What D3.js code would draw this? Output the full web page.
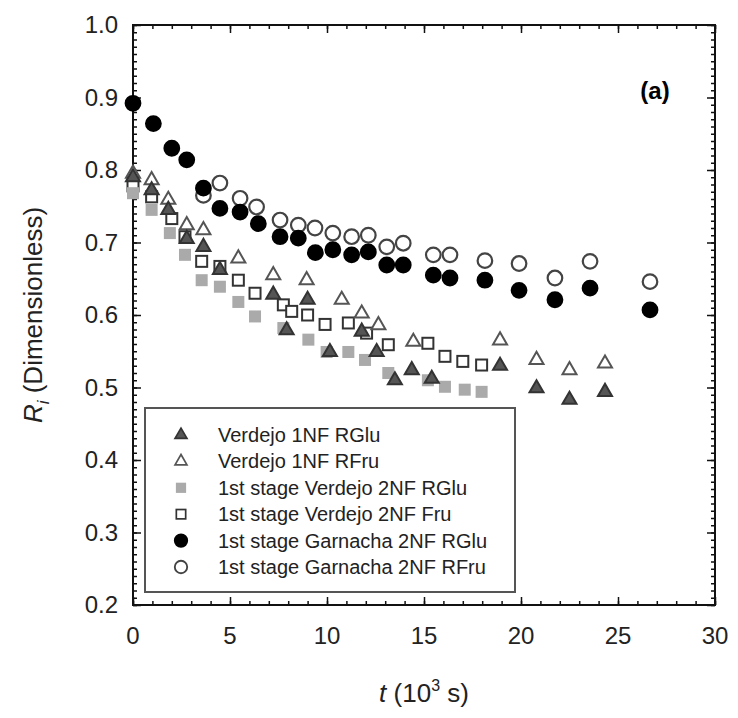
<!DOCTYPE html>
<html>
<head>
<meta charset="utf-8">
<title>Ri vs t</title>
<script src="https://d3js.org/d3.v7.min.js"></script>
<style>
  body { margin: 0; background: #fff; }
  text { font-family: "Liberation Sans", Arial, sans-serif; }
</style>
</head>
<body>
<svg width="738" height="718"></svg>
<script>
// ---- data (t in 10^3 s, Ri dimensionless) ----
var v1GluT = [0, 0.96, 1.82, 2.77, 3.63, 4.48, 7.23, 7.92, 9.0, 10.15, 11.79, 12.56, 13.5, 14.37, 15.4, 18.92, 20.8, 22.5, 24.33];
var v1Glu  = [0.790, 0.772, 0.745, 0.705, 0.694, 0.662, 0.628, 0.579, 0.621, 0.549, 0.577, 0.549, 0.510, 0.524, 0.512, 0.530, 0.499, 0.483, 0.494];

var v1FruT = [0, 0.96, 1.82, 2.77, 3.63, 5.43, 7.23, 8.95, 10.76, 11.79, 12.65, 14.45, 18.92, 20.8, 22.5, 24.33];
var v1Fru  = [0.795, 0.786, 0.759, 0.724, 0.717, 0.678, 0.655, 0.648, 0.621, 0.602, 0.586, 0.563, 0.565, 0.538, 0.524, 0.533];

var v2GluT = [0, 0.96, 1.9, 2.68, 3.54, 4.48, 5.43, 6.29, 7.75, 9.04, 9.98, 11.1, 11.96, 13.16, 15.2, 16.08, 17.1, 17.97];
var v2Glu  = [0.768, 0.745, 0.713, 0.683, 0.648, 0.639, 0.618, 0.598, 0.582, 0.566, 0.549, 0.549, 0.538, 0.520, 0.510, 0.501, 0.497, 0.494];

var v2FruT = [0, 0.96, 2.0, 2.68, 3.54, 4.48, 5.43, 6.29, 7.75, 8.18, 9.0, 9.9, 11.1, 12.04, 13.16, 15.2, 16.08, 17.0, 17.97];
var v2Fru  = [0.778, 0.763, 0.733, 0.708, 0.674, 0.667, 0.648, 0.630, 0.614, 0.605, 0.600, 0.587, 0.589, 0.575, 0.559, 0.561, 0.543, 0.536, 0.531];

var gGluT = [0, 1.05, 2.0, 2.77, 3.63, 4.48, 5.52, 6.46, 7.58, 8.52, 9.4, 10.3, 11.27, 12.13, 13.08, 13.93, 15.48, 16.34, 18.14, 19.9, 21.75, 23.56, 26.65];
var gGlu  = [0.892, 0.864, 0.830, 0.814, 0.775, 0.747, 0.742, 0.726, 0.708, 0.706, 0.686, 0.690, 0.683, 0.687, 0.669, 0.669, 0.655, 0.651, 0.648, 0.634, 0.621, 0.637, 0.607];

var gFruT = [3.63, 4.48, 5.52, 6.37, 7.58, 8.52, 9.38, 10.3, 11.27, 12.13, 13.08, 13.93, 15.48, 16.34, 18.14, 19.9, 21.75, 23.56, 26.65];
var gFru  = [0.765, 0.782, 0.761, 0.749, 0.731, 0.724, 0.720, 0.713, 0.708, 0.710, 0.694, 0.699, 0.683, 0.683, 0.675, 0.671, 0.651, 0.674, 0.646];

var xTicks = [0, 5, 10, 15, 20, 25, 30];
var yTicks = [0.2, 0.3, 0.4, 0.5, 0.6, 0.7, 0.8, 0.9, 1.0];

var series = [
  {name: "Verdejo 1NF RGlu", t: v1GluT, v: v1Glu, shape: "tri", fill: "#555", stroke: "#333"},
  {name: "Verdejo 1NF RFru", t: v1FruT, v: v1Fru, shape: "tri", fill: "#fff", stroke: "#555"},
  {name: "1st stage Verdejo 2NF RGlu", t: v2GluT, v: v2Glu, shape: "sq", fill: "#aaa", stroke: "none"},
  {name: "1st stage Verdejo 2NF Fru", t: v2FruT, v: v2Fru, shape: "sq", fill: "#fff", stroke: "#333"},
  {name: "1st stage Garnacha 2NF RGlu", t: gGluT, v: gGlu, shape: "circ", fill: "#000", stroke: "#000"},
  {name: "1st stage Garnacha 2NF RFru", t: gFruT, v: gFru, shape: "circ", fill: "#fff", stroke: "#444"}
];

var svg = d3.select("svg");
var plotL = 133, plotR = 715, plotT = 25, plotB = 605;

var x = d3.scaleLinear().domain([0, 30]).range([plotL, plotR]);
var y = d3.scaleLinear().domain([0.2, 1.0]).range([plotB, plotT]);

// ticks (all inward, on four sides)
var minorX = d3.range(0, 31, 1), minorY = d3.range(20, 101, 1).map(function(d) { return d / 100; });

function tickAxis(axis, pos, vals, size) {
  return svg.append("g")
    .attr("transform", pos)
    .call(axis.tickValues(vals).tickSizeInner(size).tickSizeOuter(0).tickFormat(""))
    .call(function(g) { g.select(".domain").remove(); g.selectAll("line").attr("stroke", "#111").attr("stroke-width", 1.5); });
}
tickAxis(d3.axisBottom(x), "translate(0," + plotB + ")", minorX, -4);
tickAxis(d3.axisBottom(x), "translate(0," + plotB + ")", xTicks, -8);
tickAxis(d3.axisTop(x), "translate(0," + plotT + ")", minorX, -4);
tickAxis(d3.axisTop(x), "translate(0," + plotT + ")", xTicks, -8);
tickAxis(d3.axisLeft(y), "translate(" + plotL + ",0)", minorY, -4);
tickAxis(d3.axisLeft(y), "translate(" + plotL + ",0)", yTicks, -8);
tickAxis(d3.axisRight(y), "translate(" + plotR + ",0)", minorY, -4);
tickAxis(d3.axisRight(y), "translate(" + plotR + ",0)", yTicks, -8);

// tick labels
svg.append("g").selectAll("text").data(xTicks).enter().append("text")
  .attr("x", function(d) { return x(d); }).attr("y", 644)
  .attr("text-anchor", "middle").attr("font-size", 24).attr("fill", "#222")
  .text(function(d) { return d; });
svg.append("g").selectAll("text").data(yTicks).enter().append("text")
  .attr("x", 118).attr("y", function(d) { return y(d) + 8; })
  .attr("text-anchor", "end").attr("font-size", 24).attr("fill", "#222")
  .text(function(d) { return d.toFixed(1); });

// frame
svg.append("rect").attr("x", plotL).attr("y", plotT)
  .attr("width", plotR - plotL).attr("height", plotB - plotT)
  .attr("fill", "none").attr("stroke", "#111").attr("stroke-width", 2);

// markers
function drawMarker(sel, s) {
  if (s.shape == "circ") {
    sel.append("circle").attr("r", 7.3)
      .attr("fill", s.fill).attr("stroke", s.stroke).attr("stroke-width", 2.2);
  } else if (s.shape == "sq") {
    var a = s.stroke == "none" ? 12 : 11;
    sel.append("rect").attr("x", -a / 2).attr("y", -a / 2).attr("width", a).attr("height", a)
      .attr("fill", s.fill).attr("stroke", s.stroke).attr("stroke-width", 2);
  } else {
    sel.append("path").attr("d", d3.symbol().type(d3.symbolTriangle).size(85)())
      .attr("fill", s.fill).attr("stroke", s.stroke).attr("stroke-width", 2);
  }
}

series.slice().reverse().forEach(function(s) {
  var pts = s.t.map(function(t, i) { return [t, s.v[i]]; });
  svg.append("g").selectAll("g").data(pts).enter().append("g")
    .attr("transform", function(d) { return "translate(" + x(d[0]) + "," + y(d[1]) + ")"; })
    .each(function() { drawMarker(d3.select(this), s); });
});

// legend
var lg = svg.append("g");
lg.append("rect").attr("x", 145).attr("y", 408).attr("width", 370).attr("height", 184)
  .attr("fill", "#fff").attr("stroke", "#555").attr("stroke-width", 2);
series.forEach(function(s, i) {
  var yy = 435 + i * 26.4;
  var m = lg.append("g").attr("transform", "translate(181," + yy + ") scale(0.85)");
  drawMarker(m, s);
  lg.append("text").attr("x", 218).attr("y", yy + 7).attr("font-size", 20).attr("fill", "#222").text(s.name);
});

// (a)
svg.append("text").attr("x", 655).attr("y", 99).attr("text-anchor", "middle")
  .attr("font-size", 24).attr("font-weight", "bold").text("(a)");

// axis titles
var xt = svg.append("text").attr("x", (plotL + plotR) / 2).attr("y", 702)
  .attr("text-anchor", "middle").attr("font-size", 26).attr("fill", "#222");
xt.append("tspan").attr("font-style", "italic").text("t");
xt.append("tspan").text(" (10");
xt.append("tspan").attr("font-size", 16).attr("dy", -11).text("3");
xt.append("tspan").attr("dy", 11).text(" s)");

var yt = svg.append("text").attr("transform", "translate(42," + ((plotT + plotB) / 2) + ") rotate(-90)")
  .attr("text-anchor", "middle").attr("font-size", 26).attr("fill", "#222");
yt.append("tspan").attr("font-style", "italic").text("R");
yt.append("tspan").attr("font-style", "italic").attr("font-size", 17).attr("dy", 7).text("i");
yt.append("tspan").attr("dy", -7).text(" (Dimensionless)");
</script>
</body>
</html>
